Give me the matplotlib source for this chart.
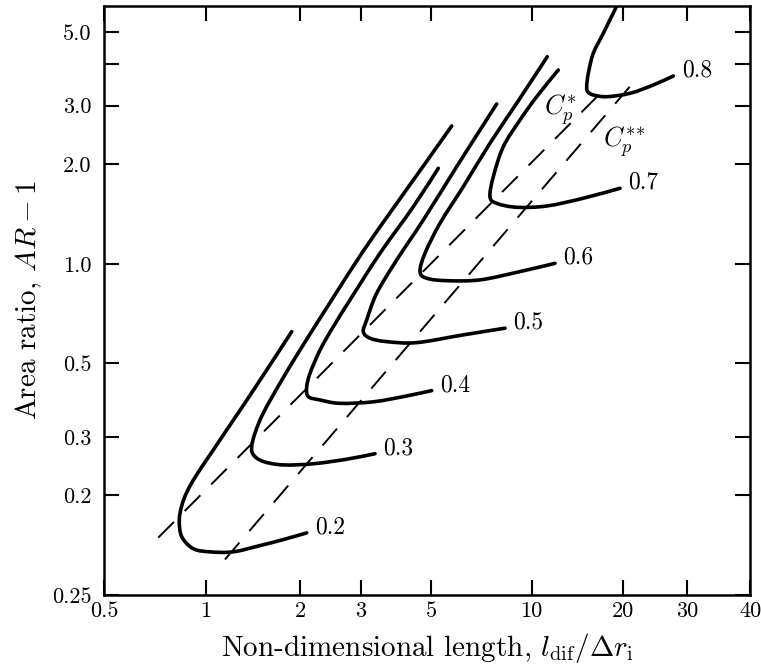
import numpy as np
import matplotlib
matplotlib.use('Agg')
import matplotlib.pyplot as plt
from matplotlib.path import Path
from matplotlib.patches import PathPatch
from matplotlib.ticker import FixedLocator, FixedFormatter, NullLocator

plt.rcParams['font.family'] = 'cmr10'
plt.rcParams['mathtext.fontset'] = 'cm'
plt.rcParams['axes.unicode_minus'] = False
plt.rcParams['lines.scale_dashes'] = False

# length axis: tick values and their spacing along the (hand-ruled) axis, 0..1
x_ticks = [0.5, 1, 2, 3, 5, 10, 20, 30, 40]
x_tick_labels = ['0.5', '1', '2', '3', '5', '10', '20', '30', '40']
x_tick_frac = np.array([0, 102, 196, 257, 327, 427.5, 519, 583, 646]) / 646.0

# area ratio axis
y_ticks = [0.1, 0.2, 0.3, 0.5, 1.0, 2.0, 3.0, 4.0, 5.0]
y_tick_labels = ['0.25', '0.2', '0.3', '0.5', '1.0', '2.0', '3.0', '', '5.0']

# constant pressure-recovery lines, C_p = 0.2 ... 0.8
cp_levels = ['0.2', '0.3', '0.4', '0.5', '0.6', '0.7', '0.8']

len_02 = [1.882, 1.435, 1.194, 1.030, 0.934, 0.879, 0.848, 0.834, 0.848, 0.917, 1.030, 1.223, 1.489, 1.768, 2.091]
ar_02 = [0.624, 0.422, 0.326, 0.265, 0.229, 0.205, 0.186, 0.168, 0.150, 0.138, 0.135, 0.135, 0.141, 0.147, 0.154]

len_03 = [5.767, 4.963, 3.894, 3.051, 2.470, 2.000, 1.726, 1.525, 1.435, 1.401, 1.418, 1.525, 1.768, 2.185, 2.728, 3.323]
ar_03 = [2.606, 2.105, 1.522, 1.093, 0.778, 0.549, 0.436, 0.354, 0.308, 0.281, 0.265, 0.253, 0.247, 0.249, 0.257, 0.267]

len_04 = [5.258, 4.395, 3.447, 2.789, 2.496, 2.285, 2.138, 2.091, 2.114, 2.285, 2.609, 3.281, 4.188, 5.024]
ar_04 = [1.942, 1.487, 1.076, 0.778, 0.646, 0.549, 0.467, 0.424, 0.397, 0.388, 0.379, 0.383, 0.399, 0.414]

len_05 = [7.866, 7.012, 5.969, 4.727, 3.894, 3.365, 3.128, 3.051, 3.204, 3.619, 4.505, 6.248, 8.330]
ar_05 = [3.037, 2.534, 1.964, 1.356, 1.027, 0.815, 0.677, 0.624, 0.596, 0.582, 0.578, 0.610, 0.639]

len_06 = [11.27, 9.031, 7.510, 6.248, 5.320, 4.786, 4.615, 4.846, 5.572, 7.012, 9.237, 11.95]
ar_06 = [4.219, 3.052, 2.311, 1.709, 1.325, 1.076, 0.947, 0.904, 0.889, 0.894, 0.947, 1.003]

len_07 = [12.25, 10.40, 9.237, 8.233, 7.685, 7.510, 7.866, 9.031, 11.22, 14.81, 19.55]
ar_07 = [3.846, 3.194, 2.717, 2.257, 1.832, 1.594, 1.522, 1.481, 1.494, 1.577, 1.690]

len_08 = [19.07, 17.23, 15.97, 15.38, 15.19, 15.35, 15.97, 17.68, 20.91, 24.23, 27.51]
ar_08 = [6.000, 4.963, 4.320, 3.759, 3.424, 3.300, 3.233, 3.194, 3.271, 3.465, 3.689]

# optimum lines: C_p* (best for given area ratio), C_p** (best for given length)
cp_star_len = [0.723, 17.68]
cp_star_ar = [0.149, 3.418]
cp_2star_len = [1.150, 21.18]
cp_2star_ar = [0.128, 3.489]

curves = [(len_02, ar_02), (len_03, ar_03), (len_04, ar_04), (len_05, ar_05),
          (len_06, ar_06), (len_07, ar_07), (len_08, ar_08)]

_lt = np.log10(x_ticks)


def _fwd(x):
    x = np.asarray(x, dtype=float)
    return np.interp(np.log10(np.maximum(x, 1e-9)), _lt, x_tick_frac)


def _inv(p):
    return 10 ** np.interp(p, x_tick_frac, _lt)


def smooth_path(xs, ys):
    # Catmull-Rom through the points, built in scaled (axis) space so that
    # the bezier segments come out smooth on the plotted axes
    pts = np.column_stack([_fwd(xs), np.log10(ys)])
    ext = np.vstack([pts[0], pts, pts[-1]])
    verts = [pts[0]]
    codes = [Path.MOVETO]
    for i in range(len(pts) - 1):
        p0, p1, p2, p3 = ext[i], ext[i + 1], ext[i + 2], ext[i + 3]
        verts += [p1 + (p2 - p0) / 6, p2 - (p3 - p1) / 6, p2]
        codes += [Path.CURVE4] * 3
    verts = np.array(verts)
    return Path(np.column_stack([_inv(verts[:, 0]), 10 ** verts[:, 1]]), codes)


fig = plt.figure(figsize=(7.61, 6.71), dpi=100)
ax = fig.add_axes([104 / 761, 1 - 595 / 671, 646 / 761, 589 / 671])
ax.set_xscale('function', functions=(_fwd, _inv))
ax.set_yscale('log')

for (xs, ys), lab in zip(curves, cp_levels):
    ax.add_patch(PathPatch(smooth_path(xs, ys), fill=False, edgecolor='black',
                           lw=2.6, capstyle='round', joinstyle='round'))
    ax.annotate(lab, (xs[-1], ys[-1]), xytext=(6, 4), textcoords='offset points',
                fontsize=17, ha='left', va='center')

ax.plot(cp_star_len, cp_star_ar, color='black', lw=1.4, dashes=(16, 11))
ax.plot(cp_2star_len, cp_2star_ar, color='black', lw=1.4, dashes=(16, 11))
ax.text(12.41, 2.912, r'$C_p^{*}$', fontsize=19, ha='center', va='center')
ax.text(20.13, 2.332, r'$C_p^{*\!*}$', fontsize=19, ha='center', va='center')

ax.set_xlim(0.5, 40)
ax.set_ylim(0.1, 6.0)
ax.xaxis.set_major_locator(FixedLocator(x_ticks))
ax.xaxis.set_major_formatter(FixedFormatter(x_tick_labels))
ax.xaxis.set_minor_locator(NullLocator())
ax.yaxis.set_major_locator(FixedLocator(y_ticks))
ax.yaxis.set_major_formatter(FixedFormatter(y_tick_labels))
ax.yaxis.set_minor_locator(NullLocator())

ax.tick_params(which='major', direction='in', length=11, width=1.5,
               top=True, right=True, labelsize=16)
ax.tick_params(axis='x', pad=5)
ax.tick_params(axis='y', pad=9)
for s in ax.spines.values():
    s.set_linewidth(1.8)

ax.set_xlabel(r'Non-dimensional length, $l_{\mathrm{dif}}/\Delta r_{\mathrm{i}}$',
              fontsize=21, labelpad=7)
ax.set_ylabel(r'Area ratio, $AR - 1$', fontsize=21, labelpad=6)

fig.savefig('out.png', dpi=100)
